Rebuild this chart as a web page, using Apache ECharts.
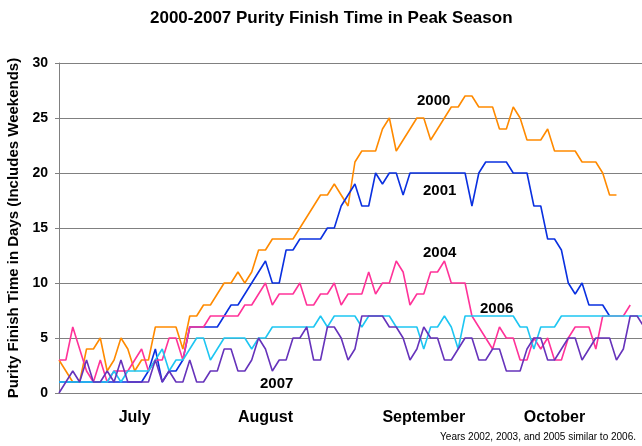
<!DOCTYPE html>
<html>
<head>
<meta charset="utf-8">
<script src="https://cdn.jsdelivr.net/npm/echarts@6/dist/echarts.min.js"></script>
<style>
  html, body { margin: 0; padding: 0; background: #fff; }
  #main { width: 642px; height: 446px; }
</style>
</head>
<body>
<div id="main"></div>
<script>
// working days from early July to late October (one point per day)
var dayCount = 86;
var monthNames = ['July', 'August', 'September', 'October'];
var monthPos = [11, 30, 53, 72];
var yTicks = [0, 5, 10, 15, 20, 25, 30];

var y2000 = [3,2,1,1,4,4,5,2,3,5, 4,2,3,3,6,6,6,6,4,7, 7,8,8,9,10,10,11,10,11,13,
  13,14,14,14,14,15,16,17,18,18, 19,18,17,21,22,22,22,24,25,22, 23,24,25,25,23,24,25,26,26,27,
  27,26,26,26,24,24,26,25,23,23, 23,24,22,22,22,22,21,21,21,20, 18,18];
var y2001 = [1,1,1,1,1,1,1,1,1,1, 1,1,1,2,4,1,2,2,3,6, 6,6,6,6,7,8,8,9,10,11,
  12,10,10,13,13,14,14,14,14,15, 15,17,18,19,17,17,20,19,20,20, 18,20,20,20,20,20,20,20,20,20,
  17,20,21,21,21,21,20,20,20,17, 17,14,14,13,10,9,10,8,8,8, 7];
var y2004 = [3,3,6,4,2,1,3,1,2,2, 2,3,4,2,3,3,5,5,3,6, 6,6,7,7,7,7,7,8,8,9,
  10,8,9,9,9,10,8,8,9,9, 10,8,9,9,9,11,9,10,10,12, 11,8,9,9,11,11,12,10,10,10,
  7,6,5,4,6,5,5,3,3,5, 4,5,3,3,5,6,6,6,4,7, 7,7,7,8];
var y2006 = [1,1,1,1,1,1,1,1,2,1, 2,2,2,2,3,4,2,3,3,4, 5,5,3,4,5,5,5,5,4,5,
  5,6,6,6,6,6,6,6,7,6, 7,7,7,7,6,7,7,7,7,6, 6,6,6,4,6,6,7,6,4,7,
  7,7,7,7,7,7,7,6,6,4, 6,6,6,7,7,7,7,7,7,7, 7,7,7,7,7,7];
var y2007 = [0,1,2,1,3,1,1,2,1,3, 1,1,1,1,3,1,2,1,1,3, 1,1,2,2,4,4,2,2,3,5,
  4,2,3,3,5,5,6,3,3,6, 6,5,3,4,7,7,7,7,6,6, 5,3,4,6,5,5,3,3,4,5,
  5,3,3,4,4,2,2,2,4,5, 5,3,3,4,5,5,3,4,5,5, 5,3,4,7,7,6];

var seriesNames = ['2000', '2001', '2004', '2006', '2007'];
var seriesData = [y2000, y2001, y2004, y2006, y2007];
var seriesColors = ['#FF8A00', '#0A30E0', '#FF3399', '#1EC6F2', '#6633BB'];

var days = [];
for (var i = 0; i < dayCount; i++) days.push(String(i));

var fontFam = '"Liberation Sans", Arial, sans-serif';

var chart = echarts.init(document.getElementById('main'));

var series = [];
for (var s = 0; s < seriesNames.length; s++) {
  series.push({
    name: seriesNames[s],
    type: 'line',
    data: seriesData[s],
    symbol: 'none',
    lineStyle: { color: seriesColors[s], width: 1.6 },
    itemStyle: { color: seriesColors[s] }
  });
}

var option = {
  animation: false,
  backgroundColor: '#ffffff',
  title: {
    text: '2000-2007 Purity Finish Time in Peak Season',
    left: 145,
    top: 5,
    textStyle: { fontFamily: fontFam, fontSize: 17, fontWeight: 'bold', color: '#000' }
  },
  grid: {
    left: 59, right: -2, top: 63, bottom: 53,
    containLabel: false,
    outerBoundsMode: 'none'
  },
  xAxis: {
    type: 'category',
    data: days,
    boundaryGap: false,
    axisLine: { lineStyle: { color: '#808080', width: 1 } },
    axisTick: { show: false },
    splitLine: { show: false },
    axisLabel: {
      interval: 0,
      margin: 17,
      fontFamily: fontFam,
      fontSize: 16,
      fontWeight: 'bold',
      color: '#000',
      formatter: function (v, idx) {
        var j = monthPos.indexOf(idx);
        return j >= 0 ? monthNames[j] : '';
      }
    }
  },
  yAxis: {
    type: 'value',
    min: yTicks[0],
    max: yTicks[yTicks.length - 1],
    interval: 5,
    name: 'Purity Finish Time in Days (Includes Weekends)',
    nameLocation: 'middle',
    nameRotate: 90,
    nameGap: 28,
    nameTextStyle: { fontFamily: fontFam, fontSize: 15, fontWeight: 'bold', color: '#000' },
    axisLine: { show: true, lineStyle: { color: '#808080', width: 1 } },
    axisTick: { show: true, length: 4, lineStyle: { color: '#808080' } },
    splitLine: { lineStyle: { color: '#808080', width: 1 } },
    axisLabel: {
      margin: 11,
      fontFamily: fontFam,
      fontSize: 14,
      fontWeight: 'bold',
      color: '#000'
    }
  },
  graphic: [
    { type: 'text', left: 417, top: 93, style: { text: '2000', font: 'bold 15px ' + fontFam, fill: '#000' } },
    { type: 'text', left: 423, top: 183, style: { text: '2001', font: 'bold 15px ' + fontFam, fill: '#000' } },
    { type: 'text', left: 423, top: 245, style: { text: '2004', font: 'bold 15px ' + fontFam, fill: '#000' } },
    { type: 'text', left: 480, top: 301, style: { text: '2006', font: 'bold 15px ' + fontFam, fill: '#000' } },
    { type: 'text', left: 260, top: 376, style: { text: '2007', font: 'bold 15px ' + fontFam, fill: '#000' } },
    { type: 'text', right: 6, top: 432, style: { text: 'Years 2002, 2003, and 2005 similar to 2006.', font: '10px ' + fontFam, fill: '#000' } }
  ],
  series: series
};

chart.setOption(option);
</script>
</body>
</html>
